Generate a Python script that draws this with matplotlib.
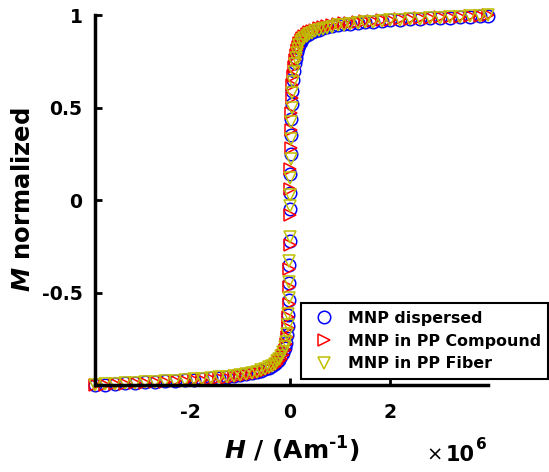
import matplotlib
matplotlib.use("Agg")
import matplotlib.pyplot as plt

plt.rcParams['font.family'] = ['DejaVu Sans']
plt.rcParams['mathtext.fontset'] = 'custom'
plt.rcParams['mathtext.rm'] = 'DejaVu Sans:bold'
plt.rcParams['mathtext.it'] = 'DejaVu Sans:italic:bold'
plt.rcParams['mathtext.bf'] = 'DejaVu Sans:bold'

# field H in units of 1e6 A/m
H = [-3.9, -3.7, -3.5, -3.3, -3.1, -2.9, -2.7, -2.5, -2.3, -2.1, -1.92, -1.75, -1.58,
     -1.42, -1.27, -1.13, -1.0, -0.88, -0.77, -0.67, -0.58, -0.5, -0.43, -0.37, -0.31,
     -0.26, -0.215, -0.175, -0.14, -0.11, -0.085, -0.065, -0.05, -0.038, -0.027, -0.018,
     -0.011, -0.005, -0.001,
     0.003, 0.008, 0.014, 0.02, 0.028, 0.037, 0.048, 0.06, 0.075, 0.09, 0.11, 0.13,
     0.155, 0.18, 0.21, 0.245, 0.285, 0.33, 0.38, 0.44, 0.5, 0.57, 0.65, 0.74, 0.84,
     0.95, 1.07, 1.2, 1.35, 1.5, 1.66, 1.83, 2.0, 2.2, 2.4, 2.6, 2.8, 3.0, 3.2, 3.4,
     3.6, 3.8, 3.96]

M_dispersed = [-1.0, -0.997, -0.994, -0.991, -0.988, -0.985, -0.982, -0.979, -0.976, -0.973,
               -0.970, -0.967, -0.963, -0.959, -0.955, -0.951, -0.946, -0.941, -0.935, -0.929,
               -0.922, -0.915, -0.907, -0.898, -0.888, -0.876, -0.862, -0.845, -0.825, -0.80,
               -0.77, -0.73, -0.68, -0.62, -0.54, -0.45, -0.35, -0.22, -0.05,
               0.04, 0.14, 0.25, 0.35, 0.44, 0.52, 0.59, 0.65, 0.70, 0.74, 0.77, 0.80,
               0.82, 0.84, 0.855, 0.87, 0.88, 0.89, 0.90, 0.908, 0.915, 0.922, 0.928, 0.934,
               0.94, 0.945, 0.95, 0.954, 0.958, 0.962, 0.965, 0.968, 0.971, 0.974, 0.977,
               0.979, 0.982, 0.984, 0.987, 0.989, 0.992, 0.995, 0.997]

M_compound = [-1.0, -0.998, -0.996, -0.993, -0.99, -0.988, -0.985, -0.982, -0.979, -0.976,
              -0.973, -0.97, -0.967, -0.963, -0.959, -0.955, -0.95, -0.945, -0.94, -0.934,
              -0.928, -0.921, -0.914, -0.906, -0.896, -0.885, -0.872, -0.856, -0.836, -0.81,
              -0.78, -0.74, -0.69, -0.63, -0.56, -0.47, -0.37, -0.24, -0.08,
              0.06, 0.17, 0.28, 0.38, 0.47, 0.55, 0.62, 0.67, 0.72, 0.755, 0.785, 0.81,
              0.83, 0.85, 0.865, 0.878, 0.888, 0.898, 0.906, 0.914, 0.921, 0.928, 0.934, 0.94,
              0.945, 0.95, 0.955, 0.959, 0.963, 0.966, 0.969, 0.972, 0.975, 0.978, 0.98,
              0.983, 0.985, 0.988, 0.99, 0.992, 0.995, 0.997, 1.0]

M_fiber = [-0.999, -0.996, -0.993, -0.99, -0.987, -0.984, -0.981, -0.978, -0.975, -0.972,
           -0.969, -0.966, -0.962, -0.958, -0.954, -0.95, -0.945, -0.94, -0.934, -0.927,
           -0.92, -0.912, -0.904, -0.895, -0.884, -0.872, -0.858, -0.84, -0.82, -0.795,
           -0.765, -0.725, -0.675, -0.615, -0.53, -0.44, -0.33, -0.2, -0.03,
           0.03, 0.12, 0.22, 0.33, 0.42, 0.5, 0.58, 0.64, 0.69, 0.735, 0.77, 0.795,
           0.818, 0.836, 0.852, 0.866, 0.878, 0.888, 0.897, 0.905, 0.913, 0.92, 0.926, 0.932,
           0.938, 0.944, 0.949, 0.954, 0.958, 0.962, 0.965, 0.968, 0.971, 0.974, 0.977,
           0.98, 0.982, 0.985, 0.988, 0.99, 0.993, 0.996, 0.999]

labels = ['MNP dispersed', 'MNP in PP Compound', 'MNP in PP Fiber']

fig = plt.figure(figsize=(5.49, 4.72), dpi=100)
ax = fig.add_axes([0.173, 0.184, 0.716, 0.784])

ax.plot(H, M_dispersed, 'o', mfc='none', mec='blue', ms=9, mew=1.1, clip_on=False, label=labels[0])
ax.plot(H, M_compound, '>', mfc='none', mec='red', ms=9, mew=1.1, clip_on=False, label=labels[1])
ax.plot(H, M_fiber, 'v', mfc='none', mec='#bfbf00', ms=9, mew=1.1, clip_on=False, label=labels[2])

ax.set_xlim(-3.9, 3.96)
ax.set_ylim(-1, 1)
ax.set_xticks([-2, 0, 2])
ax.set_yticks([-0.5, 0, 0.5, 1])
ax.set_xticklabels(['-2', '0', '2'])
ax.set_yticklabels(['-0.5', '0', '0.5', '1'])
ax.tick_params(direction='in', length=5, width=2, labelsize=13.5)
ax.tick_params(axis='x', pad=13)
ax.tick_params(axis='y', pad=9)
for t in ax.get_xticklabels() + ax.get_yticklabels():
    t.set_fontweight('bold')

ax.spines['top'].set_visible(False)
ax.spines['right'].set_visible(False)
ax.spines['left'].set_linewidth(2.5)
ax.spines['bottom'].set_linewidth(2.5)

ax.set_xlabel(r'$\mathit{H}$ / (Am$^{\text{-1}}$)', fontsize=18, fontweight='bold', labelpad=9)
ax.set_ylabel(r'$\mathit{M}$ normalized', fontsize=17.5, fontweight='bold', labelpad=5)

# axis multiplier, MATLAB style
fig.text(0.776, 0.0233, '\u00d7', fontsize=14, ha='left', va='baseline')
fig.text(0.812, 0.0233, '10', fontsize=15, fontweight='bold', ha='left', va='baseline')
fig.text(0.867, 0.0487, '6', fontsize=11, fontweight='bold', ha='left', va='baseline')

leg = ax.legend(loc='center', bbox_to_anchor=(0.773, 0.2775), bbox_transform=fig.transFigure,
                prop={'weight': 'bold', 'size': 11.4}, frameon=True, fancybox=False,
                edgecolor='black', framealpha=1, handlelength=2.0, handletextpad=0.5,
                labelspacing=0.5, borderpad=0.45)
leg.get_frame().set_linewidth(1.5)

fig.savefig('out.png', dpi=100)
